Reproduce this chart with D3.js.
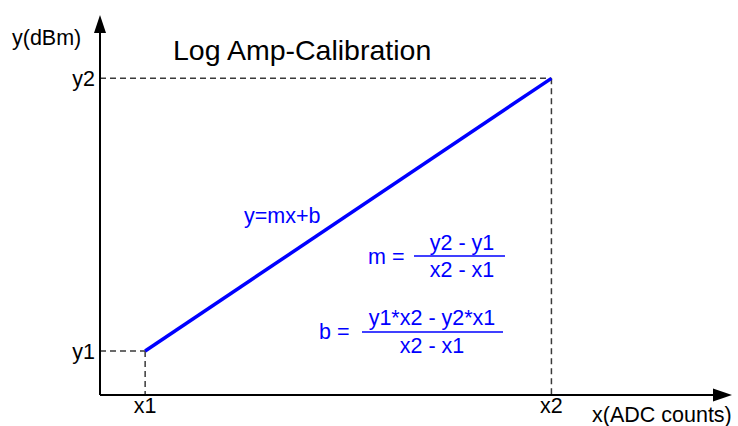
<!DOCTYPE html>
<html>
<head>
<meta charset="utf-8">
<script src="https://cdn.jsdelivr.net/npm/d3@7"></script>
<style>
  body { margin: 0; background: #fff; }
  svg { display: block; font-family: "Liberation Sans", Arial, sans-serif; }
</style>
</head>
<body>
<div id="chart"></div>
<script>
// calibration points (abstract units)
const pointNames = ["1", "2"];
const xValues = [1, 10];
const yValues = [1, 7.2];
const axisMax = { x: 14, y: 8.64 };
const axisTitles = { x: "x(ADC counts)", y: "y(dBm)" };
const title = "Log Amp-Calibration";

const width = 738, height = 426;
const origin = { x: 100, y: 395 };

let x = d3.scaleLinear().domain([0, axisMax.x]).range([origin.x, 732]);
let y = d3.scaleLinear().domain([0, axisMax.y]).range([origin.y, 15]);

let svg = d3.select("#chart").append("svg")
  .attr("width", width)
  .attr("height", height);

let points = xValues.map((d, i) => ({ name: pointNames[i], x: d, y: yValues[i] }));

// dashed guides from each point to the axes
let guides = svg.append("g")
  .attr("stroke", "#3a3a3a")
  .attr("stroke-width", 1.5)
  .attr("stroke-dasharray", "6,4")
  .attr("fill", "none");

guides.selectAll(".h")
  .data(points)
  .join("line")
  .attr("x1", x(0)).attr("x2", d => x(d.x))
  .attr("y1", d => y(d.y)).attr("y2", d => y(d.y));

guides.selectAll(".v")
  .data(points)
  .join("line")
  .attr("class", "v")
  .attr("x1", d => x(d.x)).attr("x2", d => x(d.x))
  .attr("y1", d => y(d.y)).attr("y2", y(0));

// axes
let axes = svg.append("g").attr("stroke", "#000").attr("stroke-width", 2);
axes.append("line")
  .attr("x1", x(0)).attr("y1", y(0))
  .attr("x2", x(axisMax.x) - 15).attr("y2", y(0));
axes.append("line")
  .attr("x1", x(0)).attr("y1", y(0))
  .attr("x2", x(0)).attr("y2", y(axisMax.y) + 15);

svg.append("path") // x arrow
  .attr("d", `M${x(axisMax.x)},${y(0)} L${x(axisMax.x) - 19},${y(0) - 6.5} L${x(axisMax.x) - 19},${y(0) + 6.5} Z`)
  .attr("fill", "#000");
svg.append("path") // y arrow
  .attr("d", `M${x(0)},${y(axisMax.y)} L${x(0) - 6},${y(axisMax.y) + 18} L${x(0) + 6},${y(axisMax.y) + 18} Z`)
  .attr("fill", "#000");

// calibration line
let line = d3.line().x(d => x(d.x)).y(d => y(d.y));
svg.append("path")
  .datum(points)
  .attr("d", line)
  .attr("fill", "none")
  .attr("stroke", "#0000ff")
  .attr("stroke-width", 3.5);

// tick labels
let labels = svg.append("g").attr("font-size", 21.5).attr("fill", "#000");
labels.selectAll(".xl")
  .data(points)
  .join("text")
  .attr("x", d => x(d.x))
  .attr("y", 413)
  .attr("text-anchor", "middle")
  .text(d => "x" + d.name);
labels.selectAll(".yl")
  .data(points)
  .join("text")
  .attr("class", "yl")
  .attr("x", 95)
  .attr("y", d => y(d.y) + 8)
  .attr("text-anchor", "end")
  .text(d => "y" + d.name);

labels.append("text").attr("x", 12).attr("y", 45).text(axisTitles.y);
labels.append("text").attr("x", 592).attr("y", 422).text(axisTitles.x);
svg.append("text")
  .attr("x", 173).attr("y", 60)
  .attr("font-size", 28.5)
  .text(title);

// formulas
let f = svg.append("g").attr("font-size", 21.5).attr("fill", "#0000ff");
f.append("text").attr("x", 244).attr("y", 223).text("y=mx+b");

f.append("text").attr("x", 368).attr("y", 264).text("m =");
f.append("text").attr("x", 462).attr("y", 250).attr("text-anchor", "middle").text("y2 - y1");
f.append("line").attr("x1", 414).attr("x2", 505).attr("y1", 256).attr("y2", 256)
  .attr("stroke", "#0000ff").attr("stroke-width", 1.5);
f.append("text").attr("x", 462).attr("y", 277).attr("text-anchor", "middle").text("x2 - x1");

f.append("text").attr("x", 319).attr("y", 339).text("b =");
f.append("text").attr("x", 432).attr("y", 325).attr("text-anchor", "middle").text("y1*x2 - y2*x1");
f.append("line").attr("x1", 362).attr("x2", 503).attr("y1", 332).attr("y2", 332)
  .attr("stroke", "#0000ff").attr("stroke-width", 1.5);
f.append("text").attr("x", 432).attr("y", 353).attr("text-anchor", "middle").text("x2 - x1");
</script>
</body>
</html>
